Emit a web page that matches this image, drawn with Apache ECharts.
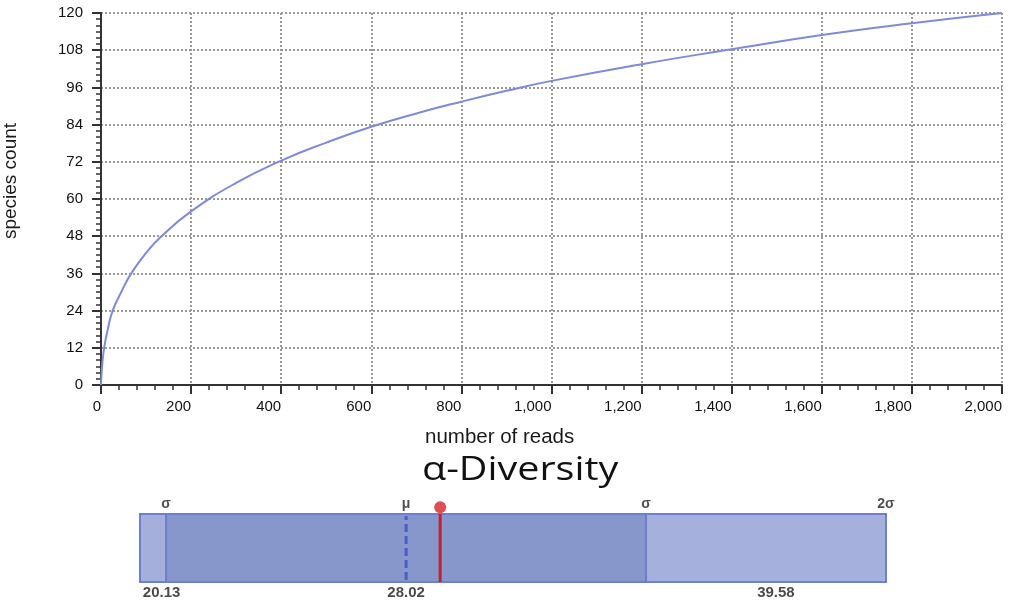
<!DOCTYPE html>
<html><head><meta charset="utf-8">
<script src="https://cdn.jsdelivr.net/npm/echarts@6/dist/echarts.min.js"></script>
<style>html,body{margin:0;padding:0;background:#fff}#c{width:1012px;height:605px}</style>
</head><body><div id="c"></div>
<script>
// ---- rarefaction curve ----
const reads   = [0, 1, 3, 7, 15, 26, 45, 67, 100, 133, 200, 300, 400, 500, 600, 700, 800, 900, 1000, 1200, 1400, 1600, 1800, 2000];
const species = [0, 3, 7, 12, 18, 24, 30, 36, 42.6, 47.8, 56.0, 65.2, 72.4, 78.2, 83.3, 87.6, 91.4, 94.9, 98.1, 103.5, 108.3, 112.9, 116.7, 120];

// ---- alpha diversity bar ----
const segStart = [19.27, 20.13, 35.91];
const segEnd   = [20.13, 35.91, 43.80];
const sigmaNames = ['σ', 'μ', 'σ', '2σ'];
const sigmaAt    = [20.13, 28.02, 35.91, 43.80];
const valueTexts = ['20.13', '28.02', '39.58'];
const valueAt    = [19.98, 28.02, 40.18];
const meanValue  = 28.02;
const sampleValue = 29.14;

const segColors = ['#a5afdc', '#8796cb', '#a5b0dc'];
const FONT = 'Liberation Sans';

const curve = reads.map((r, i) => [r, species[i]]);

const chart = echarts.init(document.getElementById('c'), null, {renderer: 'canvas'});
chart.setOption({
  animation: false,
  backgroundColor: '#fff',
  title: [
    {text: 'number of reads', left: 425, top: 427, padding: 0,
     textStyle: {fontFamily: FONT, fontSize: 20.5, fontWeight: 'normal', color: '#1a1a1a'}}
  ],
  graphic: [{
    type: 'text', x: 11, y: 181, rotation: Math.PI / 2,
    style: {text: 'species count', fontFamily: FONT, fontSize: 19, fill: '#1a1a1a',
            textAlign: 'center', textVerticalAlign: 'middle'}
  }, {
    type: 'text', x: 422, y: 471, scaleX: 1.235,
    style: {text: 'α-Diversity', fontFamily: 'Open Sans', fontSize: 32, fill: '#111',
            textAlign: 'left', textVerticalAlign: 'middle'}
  }],
  grid: [
    {left: 101, right: 10, top: 13, height: 372, outerBoundsMode: 'none', containLabel: false},
    {left: 140, width: 746, top: 514, height: 68, outerBoundsMode: 'none', containLabel: false}
  ],
  xAxis: [{
    gridIndex: 0, type: 'value', min: 0, max: 2000, interval: 200,
    axisLine: {lineStyle: {color: '#333', width: 2}},
    axisTick: {length: 9, lineStyle: {color: '#333', width: 2}},
    minorTick: {show: true, splitNumber: 5, length: 5, lineStyle: {color: '#333', width: 1.5}},
    axisLabel: {margin: 14, fontFamily: FONT, fontSize: 15, color: '#111', align: 'right',
                formatter: v => v.toLocaleString('en-US')},
    splitLine: {show: true, lineStyle: {type: 'dotted', color: '#999', width: 2}}
  }, {
    gridIndex: 1, type: 'value', min: 19.27, max: 43.8, show: false
  }],
  yAxis: [{
    gridIndex: 0, type: 'value', min: 0, max: 120, interval: 12,
    axisLine: {show: true, lineStyle: {color: '#333', width: 2}},
    axisTick: {show: true, length: 9, lineStyle: {color: '#333', width: 2}},
    minorTick: {show: true, splitNumber: 6, length: 5, lineStyle: {color: '#333', width: 1.5}},
    axisLabel: {margin: 18, fontFamily: FONT, fontSize: 15, color: '#111'},
    splitLine: {show: true, lineStyle: {type: 'dotted', color: '#999', width: 2}}
  }, {
    gridIndex: 1, type: 'value', min: 0, max: 1, show: false
  }],
  series: [
    {
      type: 'line', xAxisIndex: 0, yAxisIndex: 0, data: curve,
      smooth: 0.5, showSymbol: false, symbol: 'none',
      lineStyle: {color: '#7f8ad9', width: 2}
    },
    {
      type: 'custom', xAxisIndex: 1, yAxisIndex: 1,
      data: segStart.map((s, i) => [s, segEnd[i]]),
      renderItem: (params, api) => {
        const a = api.coord([api.value(0), 1]);
        const b = api.coord([api.value(1), 0]);
        return {type: 'rect', shape: {x: a[0], y: a[1], width: b[0] - a[0], height: b[1] - a[1]},
                style: {fill: segColors[params.dataIndex], stroke: '#6c80cf', lineWidth: 2}};
      }
    },
    {
      type: 'line', xAxisIndex: 1, yAxisIndex: 1,
      data: [[meanValue, 0.03], [meanValue, 0.97]], symbol: 'none',
      lineStyle: {color: '#4a5cc6', width: 3, type: [8, 4]}
    },
    {
      type: 'line', xAxisIndex: 1, yAxisIndex: 1,
      data: [[sampleValue, 0], [sampleValue, 1]], symbol: 'none',
      lineStyle: {color: '#c8202a', width: 3}
    },
    {
      type: 'scatter', xAxisIndex: 1, yAxisIndex: 1, clip: false,
      data: [[sampleValue, 1.1]], symbolSize: 12,
      itemStyle: {color: '#d8222a'}
    },
    {
      type: 'scatter', xAxisIndex: 1, yAxisIndex: 1, clip: false,
      data: sigmaAt.map((v, i) => [v, 1, sigmaNames[i]]),
      symbolSize: 1, itemStyle: {color: 'rgba(0,0,0,0)'},
      label: {show: true, position: 'top', distance: 2, formatter: p => p.data[2],
              fontFamily: FONT, fontSize: 14, fontWeight: 'bold', color: '#222'}
    },
    {
      type: 'scatter', xAxisIndex: 1, yAxisIndex: 1, clip: false,
      data: valueAt.map((v, i) => [v, 0, valueTexts[i]]),
      symbolSize: 1, itemStyle: {color: 'rgba(0,0,0,0)'},
      label: {show: true, position: 'bottom', distance: 3, formatter: p => p.data[2],
              fontFamily: FONT, fontSize: 15, fontWeight: 'bold', color: '#1a1a1a'}
    }
  ]
});
</script>
</body></html>
